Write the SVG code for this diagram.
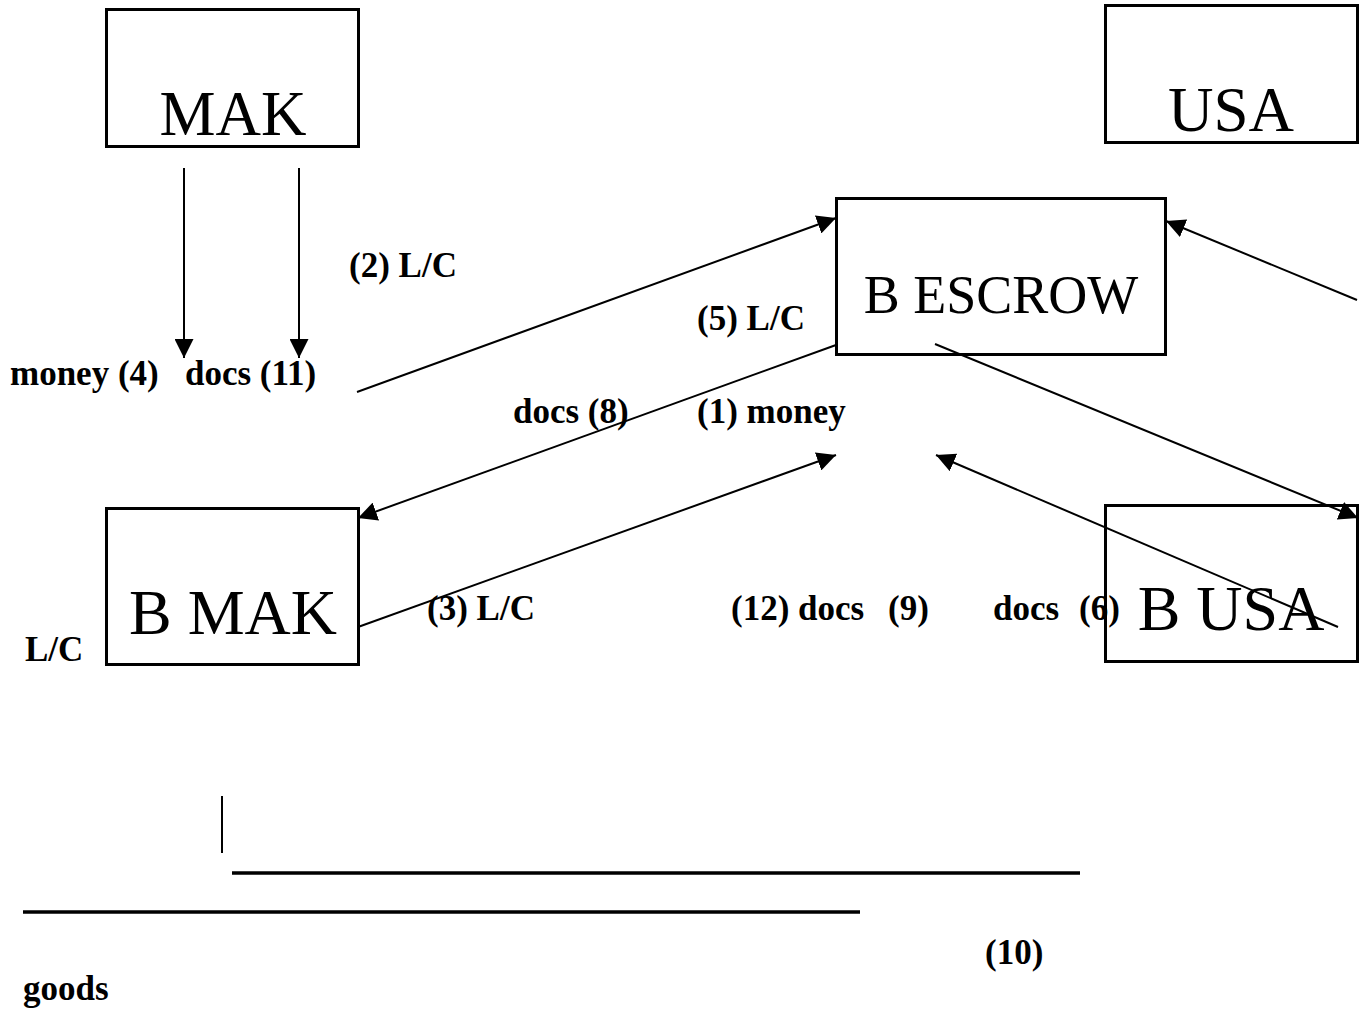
<svg xmlns="http://www.w3.org/2000/svg" width="1359" height="1014" viewBox="0 0 1359 1014">
<defs>
<marker id="ah" viewBox="0 0 10 10" refX="10" refY="5" markerWidth="19" markerHeight="19" markerUnits="userSpaceOnUse" orient="auto">
<path d="M0,0 L10,5 L0,10 z" fill="#000"/>
</marker>
<style>
.box{fill:#fff;stroke:#000;stroke-width:3}
.big{font-family:"Liberation Serif","Times New Roman",serif;font-size:63px;fill:#000}
.lbl{font-family:"Liberation Serif","Times New Roman",serif;font-size:35px;font-weight:bold;fill:#000}
.ln{stroke:#000;stroke-width:2;fill:none}
.arr{stroke:#000;stroke-width:2;fill:none;marker-end:url(#ah)}
.bar{stroke:#000;stroke-width:3.5}
</style>
</defs>
<rect width="1359" height="1014" fill="#fff"/>
<g id="node-mak"><rect class="box" x="106.5" y="9.5" width="252" height="137"/><text class="big" x="233" y="135" text-anchor="middle">MAK</text></g>
<g id="node-usa"><rect class="box" x="1105.5" y="5.5" width="252" height="137"/><text class="big" x="1231" y="131" text-anchor="middle">USA</text></g>
<g id="node-bescrow"><rect class="box" x="836.5" y="198.5" width="329" height="156"/><text class="big" x="1001" y="313" text-anchor="middle" style="font-size:54px">B ESCROW</text></g>
<g id="node-bmak"><rect class="box" x="106.5" y="508.5" width="252" height="156"/><text class="big" x="233" y="634" text-anchor="middle" style="font-size:64px">B MAK</text></g>
<g id="node-busa"><rect class="box" x="1105.5" y="505.5" width="252" height="156"/><text class="big" x="1231" y="630" text-anchor="middle" style="font-size:64px">B USA</text></g>
<g id="connectors">
<line class="arr" x1="184" y1="168" x2="184" y2="358"/>
<line class="arr" x1="299" y1="168" x2="299" y2="358"/>
<line class="arr" x1="357" y1="392" x2="836" y2="218"/>
<line class="arr" x1="836" y1="345" x2="358" y2="518"/>
<line class="arr" x1="358" y1="627" x2="836" y2="455"/>
<line class="arr" x1="1357" y1="300" x2="1166" y2="221"/>
<line class="arr" x1="935" y1="344" x2="1358" y2="518"/>
<line class="arr" x1="1338" y1="627" x2="936" y2="455"/>
<line class="ln" x1="222" y1="796" x2="222" y2="853"/>
<line class="bar" x1="232" y1="873" x2="1080" y2="873"/>
<line class="bar" x1="23" y1="912" x2="860" y2="912"/>
</g>
<g id="labels">
<text class="lbl" x="349" y="277">(2) L/C</text>
<text class="lbl" x="10" y="385">money (4)</text>
<text class="lbl" x="185" y="385">docs (11)</text>
<text class="lbl" x="697" y="330">(5) L/C</text>
<text class="lbl" x="513" y="423">docs (8)</text>
<text class="lbl" x="697" y="423">(1) money</text>
<text class="lbl" x="427" y="620">(3) L/C</text>
<text class="lbl" x="731" y="620">(12) docs</text>
<text class="lbl" x="888" y="620">(9)</text>
<text class="lbl" x="993" y="620">docs</text>
<text class="lbl" x="1079" y="620">(6)</text>
<text class="lbl" x="25" y="661">L/C</text>
<text class="lbl" x="985" y="964">(10)</text>
<text class="lbl" x="23" y="1000">goods</text>
</g>
</svg>
